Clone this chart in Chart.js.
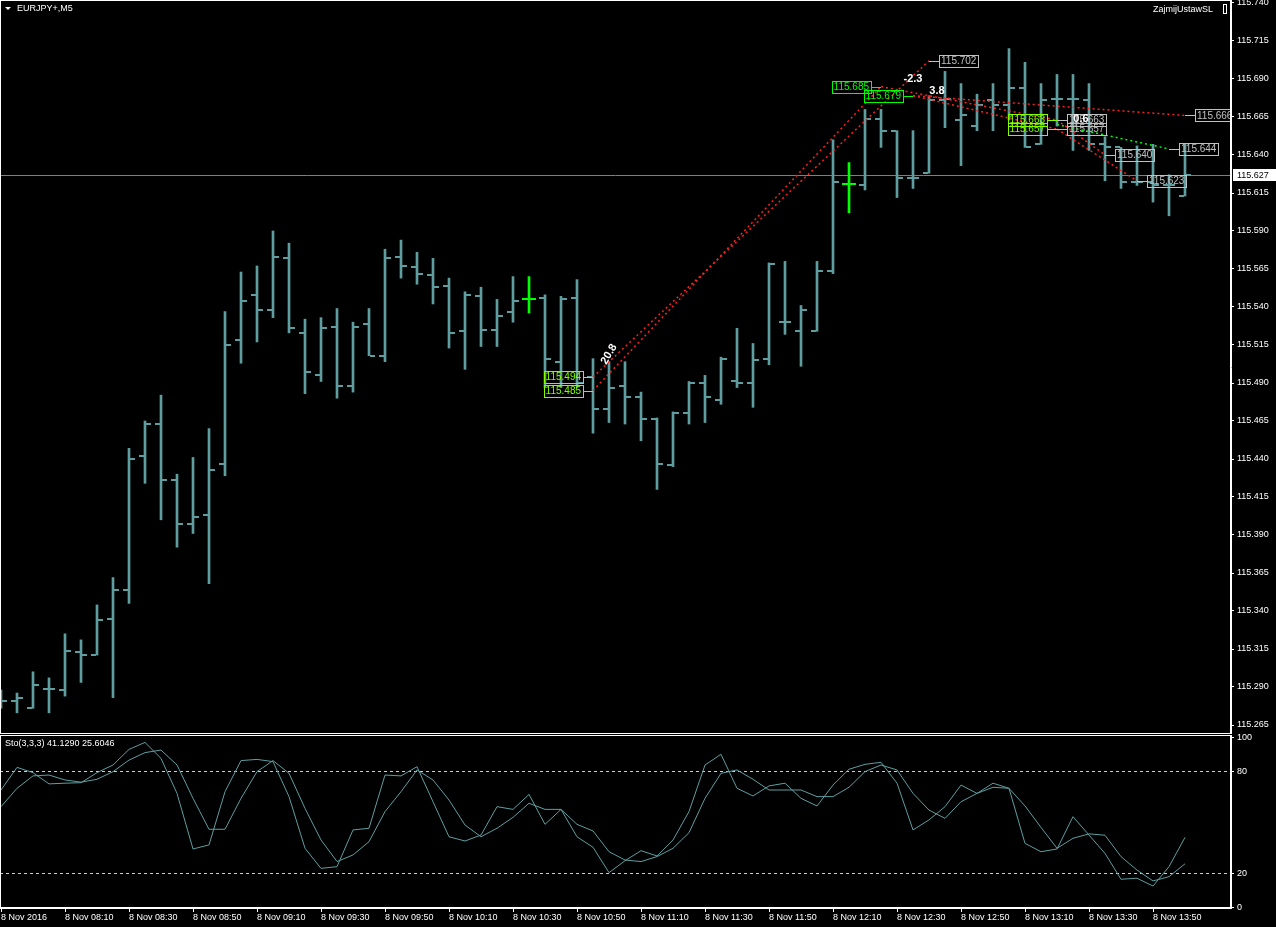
<!DOCTYPE html>
<html lang="en">
<head>
<meta charset="UTF-8">
<title>EURJPY+,M5</title>
<script src="https://cdn.jsdelivr.net/npm/chart.js"></script>
<style>
  html, body { margin: 0; padding: 0; background: #000; }
  body { width: 1276px; height: 927px; position: relative; overflow: hidden; }
  canvas { position: absolute; left: 0; }
  #priceChart { top: 0; }
  #stochChart { top: 734px; }
</style>
</head>
<body>
<canvas id="priceChart" width="1276" height="734"></canvas>
<canvas id="stochChart" width="1276" height="193"></canvas>
<script>
// EURJPY+ M5, 8 Nov 2016, first bar 07:50, one bar every 5 minutes
const opens  = [115.283,115.281,115.276,115.289,115.288,115.313,115.311,115.335,115.354,115.442,
                115.463,115.426,115.397,115.403,115.437,115.518,115.548,115.538,115.572,115.523,
                115.495,115.527,115.488,115.529,115.508,115.573,115.566,115.561,115.554,115.524,
                115.547,115.525,115.537,115.545,115.546,115.504,115.546,115.494,115.473,115.488,
                115.481,115.466,115.436,115.470,115.490,115.479,115.491,115.490,115.506,115.530,
                115.524,115.524,115.564,115.621,115.620,115.664,115.656,115.625,115.628,115.676,
                115.663,115.659,115.676,115.673,115.684,115.647,115.677,115.677,115.676,115.647,
                115.645,115.622,115.622,115.620,115.613];
const highs  = [115.288,115.286,115.300,115.296,115.325,115.321,115.344,115.362,115.447,115.465,
                115.482,115.430,115.441,115.460,115.537,115.563,115.567,115.590,115.582,115.532,
                115.533,115.539,115.530,115.539,115.578,115.584,115.576,115.572,115.559,115.550,
                115.553,115.545,115.560,115.560,115.548,115.547,115.558,115.506,115.504,115.504,
                115.484,115.467,115.471,115.491,115.495,115.507,115.526,115.516,115.569,115.570,
                115.541,115.570,115.650,115.635,115.670,115.670,115.656,115.656,115.679,115.695,
                115.687,115.680,115.687,115.710,115.701,115.687,115.693,115.693,115.687,115.652,
                115.645,115.646,115.647,115.627,115.647];
const lows   = [115.276,115.273,115.276,115.273,115.284,115.293,115.311,115.283,115.345,115.424,
                115.400,115.382,115.391,115.358,115.429,115.503,115.517,115.533,115.523,115.483,
                115.491,115.480,115.484,115.508,115.504,115.559,115.555,115.542,115.513,115.499,
                115.514,115.514,115.530,115.536,115.487,115.487,115.487,115.457,115.464,115.463,
                115.452,115.420,115.435,115.463,115.464,115.476,115.487,115.474,115.502,115.522,
                115.501,115.524,115.562,115.602,115.617,115.645,115.612,115.618,115.628,115.658,
                115.633,115.656,115.656,115.663,115.645,115.647,115.659,115.643,115.643,115.623,
                115.618,115.620,115.609,115.600,115.613];
const closes = [115.281,115.283,115.291,115.289,115.314,115.311,115.334,115.354,115.440,115.463,
                115.426,115.397,115.402,115.433,115.515,115.544,115.538,115.573,115.526,115.497,
                115.526,115.488,115.527,115.508,115.572,115.567,115.562,115.553,115.523,115.548,
                115.525,115.534,115.544,115.545,115.506,115.545,115.490,115.473,115.487,115.481,
                115.466,115.437,115.470,115.490,115.481,115.506,115.490,115.505,115.568,115.530,
                115.538,115.564,115.622,115.621,115.664,115.656,115.625,115.625,115.676,115.677,
                115.666,115.673,115.673,115.684,115.645,115.676,115.677,115.677,115.647,115.645,
                115.622,115.622,115.620,115.620,115.627];
const markedBars = [33, 53];

// Stochastic (3,3,3): main and signal lines
const stochMain = [69.0,82.3,79.2,72.6,73.0,73.3,79.2,83.7,92.9,97.0,
                   87.6,67.0,34.3,36.7,68.0,86.3,87.0,85.7,65.1,34.7,
                   22.9,23.9,45.5,46.5,77.8,77.3,82.7,62.1,41.5,39.0,
                   42.5,59.2,57.6,66.4,48.8,57.6,41.5,35.3,20.4,27.4,
                   33.3,30.2,39.6,56.3,83.7,90.0,70.0,65.5,71.4,73.0,
                   64.1,59.6,71.9,81.2,84.1,85.3,73.0,45.5,51.4,59.2,
                   71.9,67.0,73.0,70.0,37.6,32.7,34.3,53.3,42.5,31.7,
                   16.5,17.1,12.5,23.9,41.129];
const stochSignal = [59.2,70.0,77.3,77.8,74.9,73.6,75.3,79.8,86.6,91.0,
                     92.5,83.7,64.1,45.9,45.9,64.1,79.8,86.3,78.8,58.2,
                     39.6,26.9,30.8,38.6,56.3,68.0,80.8,74.9,63.1,48.4,
                     41.5,46.5,52.9,61.2,57.6,57.6,48.8,44.9,32.7,27.8,
                     26.9,29.8,34.7,43.9,64.1,78.8,80.8,75.3,69.0,69.0,
                     69.0,65.1,65.1,70.6,79.8,83.7,80.8,67.0,57.2,52.3,
                     62.1,67.0,70.6,70.0,59.6,47.0,34.7,40.6,43.2,42.4,
                     29.8,21.9,15.5,18.0,25.6046];
const stochLevels = [20, 80];
const stochTicks = [0, 20, 80, 100];

const priceTicks = [115.265,115.290,115.315,115.340,115.365,115.390,115.415,115.440,115.465,115.490,
                    115.515,115.540,115.565,115.590,115.615,115.640,115.665,115.690,115.715,115.740];
const timeLabels = ["8 Nov 2016","8 Nov 08:10","8 Nov 08:30","8 Nov 08:50","8 Nov 09:10","8 Nov 09:30",
                    "8 Nov 09:50","8 Nov 10:10","8 Nov 10:30","8 Nov 10:50","8 Nov 11:10","8 Nov 11:30",
                    "8 Nov 11:50","8 Nov 12:10","8 Nov 12:30","8 Nov 12:50","8 Nov 13:10","8 Nov 13:30",
                    "8 Nov 13:50"];
const bidPrice = 115.627;

// trade history objects (bar index, price)
const tradeOpenBar    = [37, 37, 55, 57, 66, 66];
const tradeOpenPrice  = [115.494, 115.485, 115.685, 115.679, 115.663, 115.657];
const tradeCloseBar   = [58, 55, 66, 66, 69, 71];
const tradeClosePrice = [115.702, 115.685, 115.663, 115.657, 115.640, 115.623];
const pendingFromBar   = [57, 66];
const pendingFromPrice = [115.679, 115.660];
const pendingToBar     = [74, 73];
const pendingToPrice   = [115.666, 115.644];
const tradeNotes      = ["20.8", "-2.3", "3.8", "0.6"];
const tradeNoteBar    = [38, 57, 58.5, 67.5];
const tradeNotePrice  = [115.509, 115.690, 115.682, 115.664];

const cadet = '#5f9ea0';
const lime = '#00ff00';
const font = '"Liberation Sans", Arial, sans-serif';
const xMin = -0.0625, xMax = 76.875;

function tickMark(color, side, w) {
  const c = document.createElement('canvas');
  c.width = w; c.height = 2;
  const g = c.getContext('2d');
  g.fillStyle = color;
  if (side === 'left') g.fillRect(0, 0, w / 2 - 1, 2);
  else g.fillRect(w / 2 + 1, 0, w / 2 - 1, 2);
  return c;
}
const openMark = tickMark(cadet, 'left', 12);
const closeMark = tickMark(cadet, 'right', 12);
const openMarkHi = tickMark(lime, 'left', 14);
const closeMarkHi = tickMark(lime, 'right', 14);

const isMarked = i => markedBars.includes(i);

// keep the plot area flush with the canvas edges
function fixedAxis(size) {
  return s => {
    if (s.isHorizontal()) s.height = size; else s.width = size;
    s.paddingTop = 0; s.paddingBottom = 0; s.paddingLeft = 0; s.paddingRight = 0;
  };
}

const framePlugin = {
  id: 'frame',
  afterDraw(chart) {
    const a = chart.chartArea, ctx = chart.ctx;
    ctx.save();
    ctx.strokeStyle = '#fff';
    ctx.lineWidth = 1;
    ctx.strokeRect(a.left + 0.5, a.top + 0.5, a.right - a.left - 1, a.bottom - a.top - 1);
    ctx.restore();
  }
};

function box(ctx, text, x, y, color, side) {
  ctx.font = '10px ' + font;
  const w = ctx.measureText(text).width + 4;
  const bx = side === 'left' ? x - 10 - w : x + 10;
  ctx.strokeStyle = color;
  ctx.lineWidth = 1;
  ctx.beginPath();
  ctx.moveTo(side === 'left' ? bx + w : x, Math.round(y) + 0.5);
  ctx.lineTo(side === 'left' ? x : bx, Math.round(y) + 0.5);
  ctx.stroke();
  ctx.strokeRect(Math.round(bx) + 0.5, Math.round(y - 6) + 0.5, Math.round(w), 12);
  ctx.fillStyle = color;
  ctx.textBaseline = 'middle';
  ctx.textAlign = 'left';
  ctx.fillText(text, bx + 2, y + 0.5);
}

const pricePlugin = {
  id: 'priceExtras',
  beforeDatasetsDraw(chart) {
    const {ctx, chartArea: a, scales: {y}} = chart;
    const py = Math.round(y.getPixelForValue(bidPrice)) + 0.5;
    ctx.save();
    ctx.strokeStyle = '#4a8ad0';
    ctx.lineWidth = 1;
    ctx.beginPath();
    ctx.moveTo(a.left, py);
    ctx.lineTo(a.right, py);
    ctx.stroke();
    ctx.restore();
  },
  afterDatasetsDraw(chart) {
    const {ctx, chartArea: a, scales: {x, y}} = chart;
    ctx.save();
    ctx.beginPath();
    ctx.rect(a.left, a.top, a.right - a.left, a.bottom - a.top);
    ctx.clip();
    tradeOpenBar.forEach((b, i) => {
      const col = (b === 55 || b === 57) ? '#00ff00' : '#7fff00';
      box(ctx, tradeOpenPrice[i].toFixed(3), x.getPixelForValue(b), y.getPixelForValue(tradeOpenPrice[i]), col, 'left');
    });
    tradeCloseBar.forEach((b, i) => {
      if (tradeCloseBar[i] === tradeOpenBar[i + 1] && tradeClosePrice[i] === tradeOpenPrice[i + 1]) return;
      box(ctx, tradeClosePrice[i].toFixed(3), x.getPixelForValue(b), y.getPixelForValue(tradeClosePrice[i]), '#c0c0c0', 'right');
    });
    pendingToBar.forEach((b, i) => {
      box(ctx, pendingToPrice[i].toFixed(3), x.getPixelForValue(b), y.getPixelForValue(pendingToPrice[i]), '#c0c0c0', 'right');
    });
    ctx.font = 'bold 11px ' + font;
    ctx.fillStyle = '#fff';
    ctx.textAlign = 'center';
    ctx.textBaseline = 'middle';
    tradeNotes.forEach((t, i) => {
      ctx.save();
      ctx.translate(x.getPixelForValue(tradeNoteBar[i]), y.getPixelForValue(tradeNotePrice[i]));
      if (i === 0) ctx.rotate(-Math.PI / 3);
      ctx.fillText(t, 0, 0);
      ctx.restore();
    });
    ctx.restore();

    // captions
    ctx.save();
    ctx.fillStyle = '#fff';
    ctx.font = '9px ' + font;
    ctx.textBaseline = 'middle';
    ctx.beginPath();
    ctx.moveTo(a.left + 5, a.top + 7);
    ctx.lineTo(a.left + 11, a.top + 7);
    ctx.lineTo(a.left + 8, a.top + 10);
    ctx.closePath();
    ctx.fill();
    ctx.fillText('EURJPY+,M5', a.left + 17, a.top + 8.5);
    ctx.textAlign = 'right';
    ctx.fillText('ZajmijUstawSL', a.right - 18, a.top + 9.5);
    ctx.strokeStyle = '#fff';
    ctx.strokeRect(a.right - 7.5, a.top + 4.5, 3, 9);
    ctx.restore();
  },
  afterDraw(chart) {
    const {ctx, chartArea: a, scales: {y}} = chart;
    const py = Math.round(y.getPixelForValue(bidPrice));
    ctx.save();
    ctx.fillStyle = '#fff';
    ctx.fillRect(a.right + 2, py - 6, 43, 12);
    ctx.fillStyle = '#000';
    ctx.font = '9px ' + font;
    ctx.textBaseline = 'middle';
    ctx.fillText(bidPrice.toFixed(3), a.right + 6, py + 0.5);
    ctx.restore();
  }
};

const tradeSets = [];
tradeOpenBar.forEach((b, i) => {
  tradeSets.push({
    type: 'line',
    data: [{x: b, y: tradeOpenPrice[i]}, {x: tradeCloseBar[i], y: tradeClosePrice[i]}],
    borderColor: '#ff2020', borderWidth: 1.5, borderDash: [2, 3], pointRadius: 0, order: 0
  });
});
pendingFromBar.forEach((b, i) => {
  tradeSets.push({
    type: 'line',
    data: [{x: b, y: pendingFromPrice[i]}, {x: pendingToBar[i], y: pendingToPrice[i]}],
    borderColor: i === 0 ? '#ff2020' : '#00ff00', borderWidth: 1.5, borderDash: [2, 3], pointRadius: 0, order: 0
  });
});

new Chart(document.getElementById('priceChart'), {
  type: 'bar',
  data: {
    datasets: [
      {
        data: lows.map((l, i) => ({x: i, y: [l, highs[i]]})),
        backgroundColor: ctx => isMarked(ctx.dataIndex) ? lime : cadet,
        barThickness: 2, borderWidth: 0, order: 2
      },
      {
        type: 'line', showLine: false,
        data: opens.map((o, i) => ({x: i, y: o})),
        pointStyle: ctx => isMarked(ctx.dataIndex) ? openMarkHi : openMark,
        pointRadius: 3, order: 1
      },
      {
        type: 'line', showLine: false,
        data: closes.map((c, i) => ({x: i, y: c})),
        pointStyle: ctx => isMarked(ctx.dataIndex) ? closeMarkHi : closeMark,
        pointRadius: 3, order: 1
      },
      ...tradeSets
    ]
  },
  options: {
    responsive: false,
    animation: false,
    events: [],
    layout: { padding: 0, autoPadding: false },
    plugins: { legend: { display: false }, tooltip: { enabled: false } },
    scales: {
      x: { type: 'linear', display: false, min: xMin, max: xMax, offset: false },
      y: {
        position: 'right',
        min: 115.265 - 9 / 1520,
        max: 115.740 + 3 / 1520,
        afterBuildTicks: s => { s.ticks = priceTicks.map(v => ({value: v})); },
        afterFit: fixedAxis(45),
        grid: { drawOnChartArea: false, color: '#fff', tickLength: 3 },
        border: { color: '#fff' },
        ticks: { color: '#fff', padding: 3, font: { size: 9, family: font }, callback: v => v.toFixed(3) }
      }
    }
  },
  plugins: [framePlugin, pricePlugin]
});

const stochPlugin = {
  id: 'stochCaption',
  afterDraw(chart) {
    const {ctx, chartArea: a} = chart;
    ctx.save();
    ctx.fillStyle = '#fff';
    ctx.font = '9px ' + font;
    ctx.textBaseline = 'middle';
    const k = stochMain[stochMain.length - 1], d = stochSignal[stochSignal.length - 1];
    ctx.fillText('Sto(3,3,3) ' + k.toFixed(4) + ' ' + d.toFixed(4), a.left + 5, a.top + 9);
    ctx.restore();
  }
};

new Chart(document.getElementById('stochChart'), {
  type: 'line',
  data: {
    datasets: [
      { data: stochMain.map((v, i) => ({x: i, y: v})), borderColor: cadet, borderWidth: 1, pointRadius: 0 },
      { data: stochSignal.map((v, i) => ({x: i, y: v})), borderColor: cadet, borderWidth: 1, pointRadius: 0 }
    ]
  },
  options: {
    responsive: false,
    animation: false,
    events: [],
    layout: { padding: { top: 1 }, autoPadding: false },
    plugins: { legend: { display: false }, tooltip: { enabled: false } },
    scales: {
      x: {
        type: 'linear', min: xMin, max: xMax, offset: false,
        afterBuildTicks: s => { s.ticks = timeLabels.map((t, i) => ({value: i * 4})); },
        afterFit: fixedAxis(19),
        grid: { drawOnChartArea: false, color: '#fff', tickLength: 4 },
        border: { color: '#fff' },
        ticks: {
          color: '#fff', align: 'start', padding: 0, maxRotation: 0, autoSkip: false,
          font: { size: 9, family: font },
          callback: (v, i) => timeLabels[i]
        }
      },
      y: {
        position: 'right',
        min: -0.7 / 1.7,
        max: 100 + 2.3 / 1.7,
        afterBuildTicks: s => { s.ticks = stochTicks.map(v => ({value: v})); },
        afterFit: fixedAxis(45),
        grid: {
          color: c => stochLevels.includes(c.tick && c.tick.value) ? '#d0d0d0' : 'rgba(0,0,0,0)',
          tickColor: '#fff', tickLength: 3
        },
        border: { color: '#fff', dash: [3, 3] },
        ticks: { color: '#fff', padding: 3, font: { size: 9, family: font } }
      }
    }
  },
  plugins: [framePlugin, stochPlugin]
});
</script>
</body>
</html>
